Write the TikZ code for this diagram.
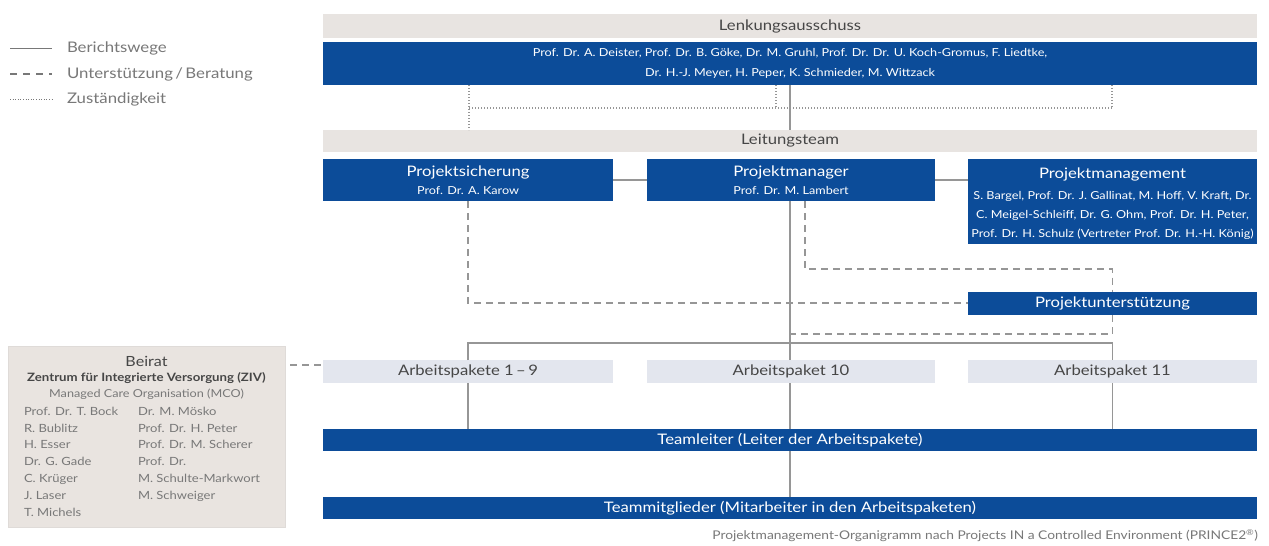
\documentclass[tikz,border=0pt]{standalone}
\usepackage{fontspec}
\setmainfont{Lato}[FakeStretch=1.15]
\definecolor{ukeblue}{RGB}{12,76,153}
\definecolor{barGrey}{RGB}{232,228,225}
\definecolor{apGrey}{RGB}{227,230,238}
\definecolor{beiratGrey}{RGB}{233,228,224}
\definecolor{lineGrey}{RGB}{150,150,150}
\definecolor{txtDark}{RGB}{70,70,70}
\definecolor{txtMid}{RGB}{120,120,120}
\newcommand\fsTitle{\fontsize{14.5}{20}\selectfont}
\newcommand\fsName{\fontsize{11}{19.3}\selectfont}
\newcommand\fsSmall{\fontsize{12}{14}\selectfont}
\begin{document}
\begin{tikzpicture}[x=1pt,y=-1pt,
  every node/.style={inner sep=0pt,outer sep=0pt},
  greybar/.style={fill=barGrey,text=txtDark,font=\fsTitle,minimum height=#1},
  greybar/.default=23pt,
  bluebox/.style={fill=ukeblue,text=white,align=center,font=\fsName},
  bluetext/.style={text=white,align=center,font=\fsName},
  apbox/.style={fill=apGrey,text=txtDark,font=\fsTitle,minimum width=289pt,minimum height=23pt},
  solidline/.style={draw=lineGrey,line width=1.3pt},
  dashline/.style={draw=lineGrey,line width=1.3pt,dash pattern=on 7pt off 5pt},
  dotline/.style={draw=lineGrey,line width=1.4pt,dash pattern=on 1pt off 2pt},
  legtext/.style={text=txtMid,font=\fontsize{14.6}{16}\selectfont,anchor=west},
  beirattext/.style={text=txtMid,font=\fontsize{11.3}{16.8}\selectfont,align=left,anchor=north west}
]
\useasboundingbox (0,0) rectangle (1269,546);
\fill[white] (0,0) rectangle (1269,546);

% legend
\draw[solidline,draw=txtMid,line width=1pt] (10,48) -- (52,48);
\draw[dashline,draw=txtMid,line width=1.2pt,dash pattern=on 7pt off 6pt] (10,74) -- (52,74);
\draw[dotline,draw=txtMid,line width=1pt,dash pattern=on 1pt off 1.6pt] (10,99) -- (52,99);
\node[legtext] (lg1) at (67,48) {Berichtswege};
\node[legtext] (lg2) at (67,74) {Unterstützung\,/\,Beratung};
\node[legtext] (lg3) at (67,99) {Zuständigkeit};

% top
\node[greybar=24pt,minimum width=934pt] (lenk) at (790,26) {Lenkungsausschuss};
\node[bluebox,minimum width=934pt,minimum height=43pt] (lenkn) at (790,63.5)
  {Prof. Dr. A. Deister, Prof. Dr. B. Göke, Dr. M. Gruhl, Prof. Dr. Dr. U. Koch-Gromus, F. Liedtke,\\
   Dr. H.-J. Meyer, H. Peper, K. Schmieder, M. Wittzack};
\node[greybar=22pt,minimum width=934pt] (leit) at (790,141) {Leitungsteam};

\node[bluebox,minimum width=290pt,minimum height=42pt] (psich) at (468,180)
  {{\fsTitle Projektsicherung}\\[-1pt] Prof. Dr. A. Karow};
\node[bluebox,minimum width=288pt,minimum height=42pt] (pman) at (791,180)
  {{\fsTitle Projektmanager}\\[-1pt] Prof. Dr. M. Lambert};
\node[bluebox,minimum width=289pt,minimum height=85pt] (pmgmt) at (1112.5,201.5) {};
\node[bluetext] (pmgmtT) at (1112.5,204)
  {{\fsTitle Projektmanagement}\\[1pt]
   S. Bargel, Prof. Dr. J. Gallinat, M. Hoff, V. Kraft, Dr.\\
   C. Meigel-Schleiff, Dr. G. Ohm, Prof. Dr. H. Peter,\\
   Prof. Dr. H. Schulz (Vertreter Prof. Dr. H.-H. König)};
\node[bluebox,font=\fsTitle,minimum width=289pt,minimum height=23pt] (punt) at (1112.5,303.5) {Projektunterstützung};

\node[apbox,minimum width=290pt] (ap19) at (468,371.5) {Arbeitspakete 1\,–\,9};
\node[apbox,minimum width=288pt] (ap10) at (791,371.5) {Arbeitspaket 10};
\node[apbox] (ap11) at (1112.5,371.5) {Arbeitspaket 11};

\node[bluebox,font=\fsTitle,minimum width=934pt,minimum height=22pt] (team) at (790,440) {Teamleiter (Leiter der Arbeitspakete)};
\node[bluebox,font=\fsTitle,minimum width=934pt,minimum height=22pt] (mitgl) at (790,508) {Teammitglieder (Mitarbeiter in den Arbeitspaketen)};

\node[anchor=east,text=txtMid,font=\fsSmall] (cap) at (1258,535.5)
  {Projektmanagement-Organigramm nach Projects IN a Controlled Environment (PRINCE2\textsuperscript{®})};

% Beirat
\node[fill=beiratGrey,draw=barGrey!80!black!20!barGrey,minimum width=277pt,minimum height=181pt] (beirat) at (146.5,436.5) {};
\node[text=txtDark,font=\fontsize{14}{16}\selectfont] (bt1) at (146.5,361) {Beirat};
\node[text=txtDark,font=\bfseries\fontsize{11.5}{14}\selectfont] (bt2) at (146.5,378) {Zentrum für Integrierte Versorgung (ZIV)};
\node[text=txtMid,font=\fontsize{11}{13}\selectfont] (bt3) at (146.5,394) {Managed Care Organisation (MCO)};
\node[beirattext] (bc1) at (24,407) {Prof. Dr. T. Bock\\ R. Bublitz\\ H. Esser\\ Dr. G. Gade\\ C. Krüger\\ J. Laser\\ T. Michels};
\node[beirattext] (bc2) at (138,407) {Dr. M. Mösko\\ Prof. Dr. H. Peter\\ Prof. Dr. M. Scherer\\ Prof. Dr.\\ M. Schulte-Markwort\\ M. Schweiger};

% coordinates
\coordinate (hbar) at (0,343);
\coordinate (dA) at (0,303);
\coordinate (dB) at (0,269);
\coordinate (dC) at (0,334);

% dotted Zuständigkeit
\draw[dotline] (lenkn.south -| 469,0) -- (leit.north -| 469,0);
\draw[dotline] (469,108) -- (1112,108);
\draw[dotline] (lenkn.south -| 776,0) -- (776,108);
\draw[dotline] (lenkn.south -| 1112,0) -- (1112,108);

% solid Berichtswege
\draw[solidline] (lenkn.south -| 790,0) -- (leit.north -| 790,0);
\draw[solidline] (psich.east) -- (pman.west);
\draw[solidline] (pman.east) -- (pman.east -| pmgmt.west);
\draw[solidline] (pman.south -| 790,0) -- (ap10.north -| 790,0);
\draw[solidline] (ap19.north) |- (hbar -| 790,0) -| (ap11.north);
\draw[solidline] (ap19.south) -- (team.north -| ap19.south);
\draw[solidline] (ap10.south -| 790,0) -- (team.north -| 790,0);
\draw[solidline] (ap11.south) -- (team.north -| ap11.south);
\draw[solidline] (team.south -| 790,0) -- (mitgl.north -| 790,0);

% dashed Unterstützung
\draw[dashline] (psich.south) |- (dA -| punt.west);
\draw[dashline] (pman.south -| 805,0) |- (dB -| punt.north) -- (punt.north);
\draw[dashline] (punt.south) |- (dC -| 790,0);
\draw[dashline] (beirat.east |- 0,365) ++(5,0) -- (ap19.west |- 0,365);
\end{tikzpicture}
\end{document}
